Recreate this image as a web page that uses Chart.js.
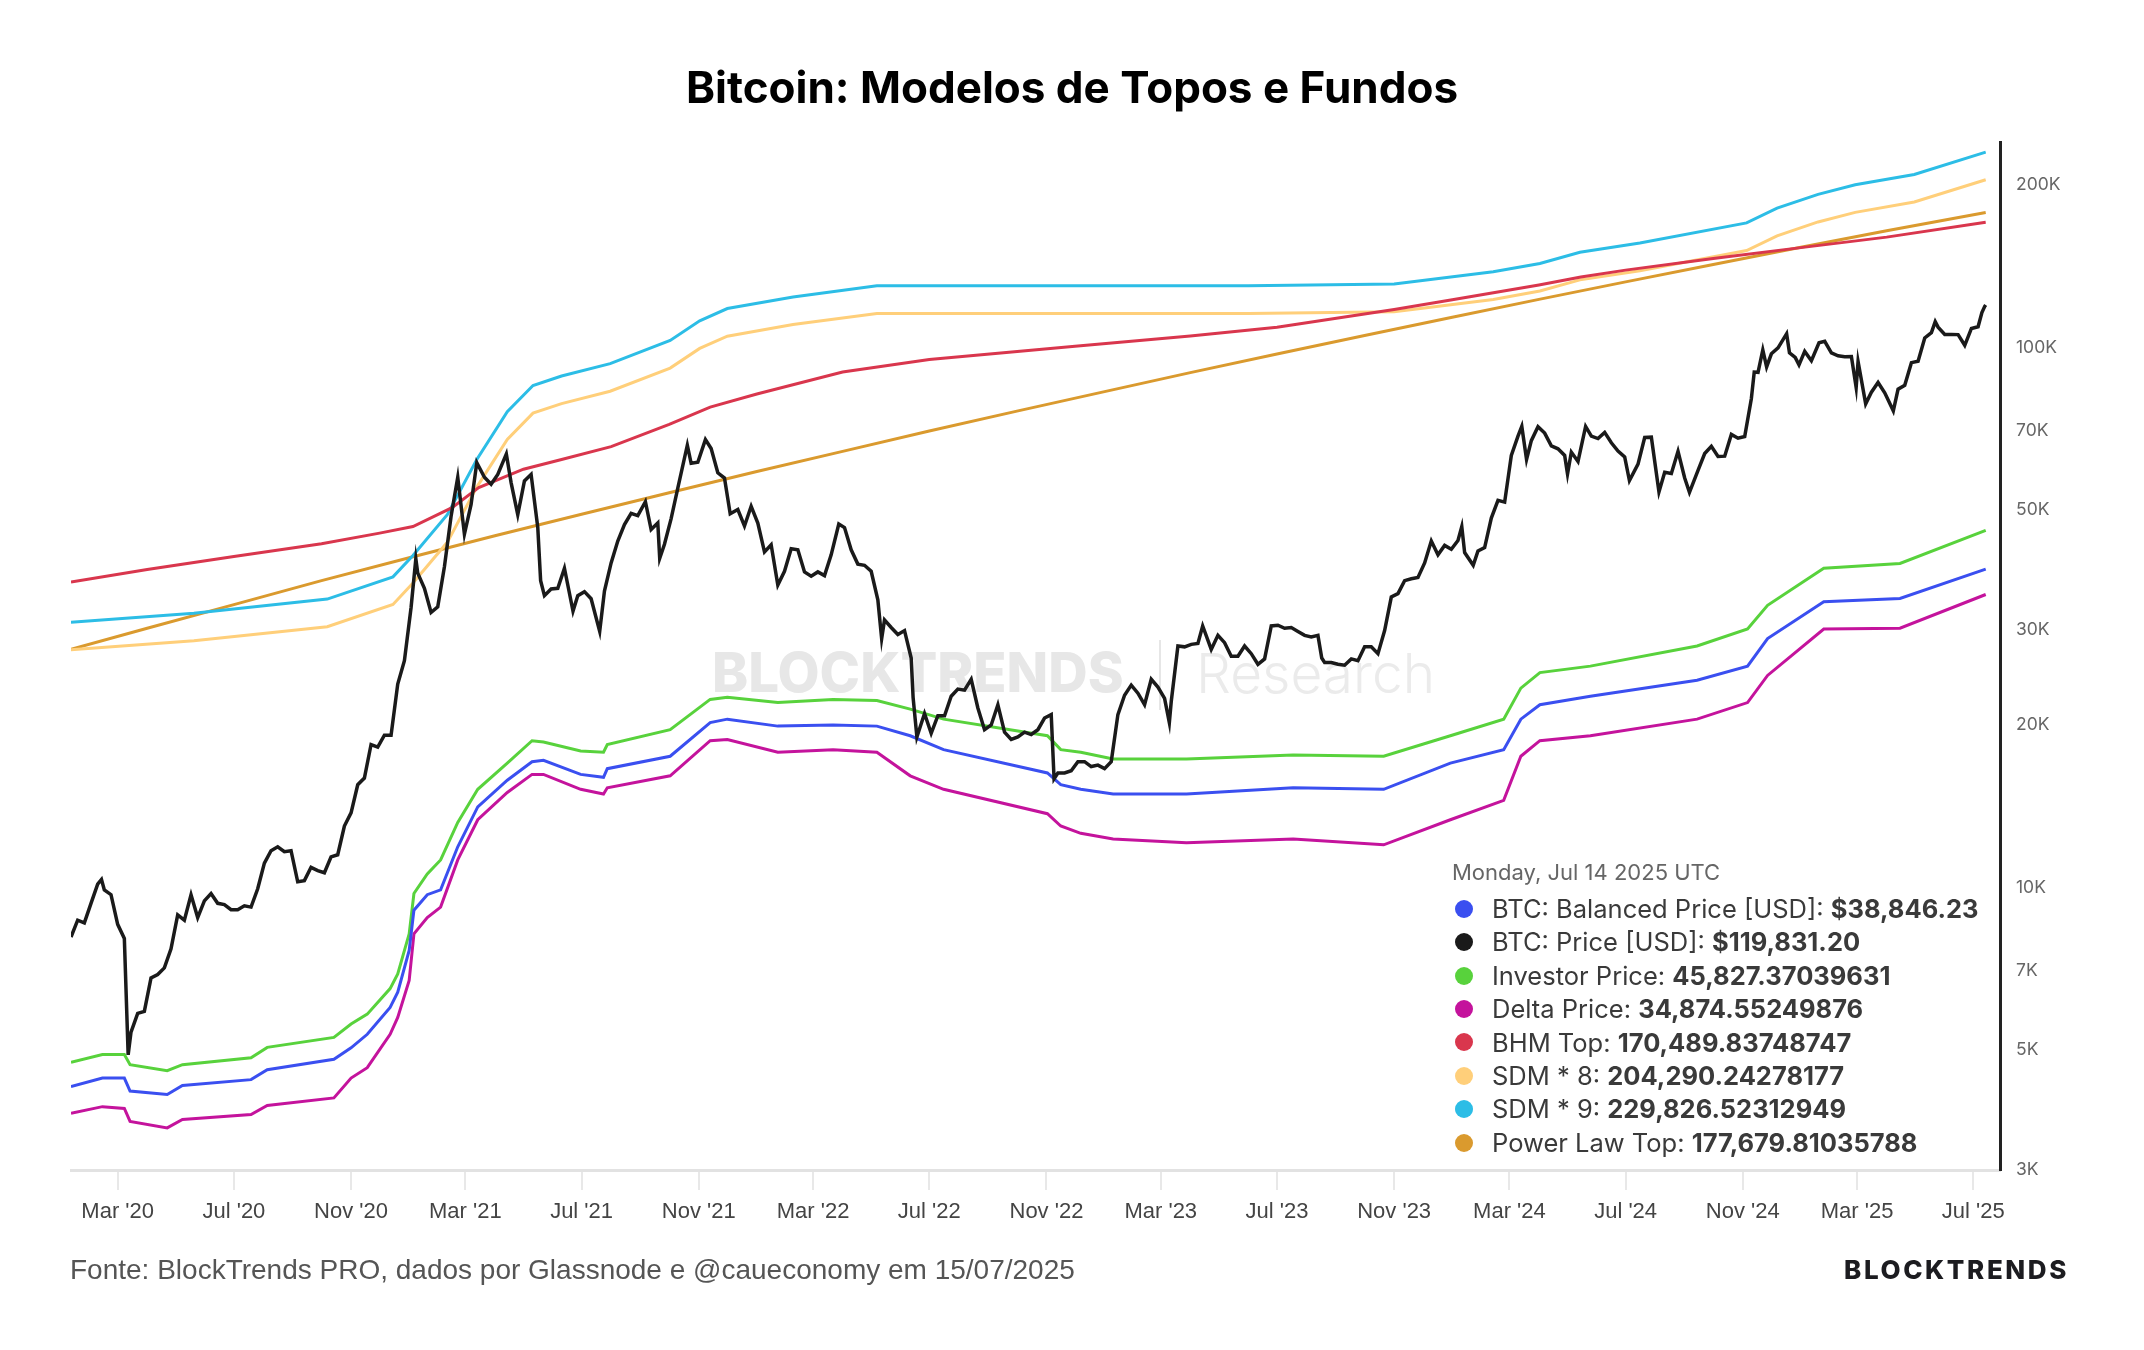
<!DOCTYPE html>
<html>
<head>
<meta charset="utf-8">
<script src="https://cdn.jsdelivr.net/npm/chart.js@4.4.1/dist/chart.umd.min.js"></script>
<style>
    html, body { margin: 0; padding: 0; background: #fff; }
    #page { position: relative; width: 2144px; height: 1350px; overflow: hidden; font-family: Inter, 'Liberation Sans', sans-serif; }
    #chartBox { position: absolute; left: 0; top: 0; width: 2144px; height: 1350px; }
    #title { position: absolute; left: 0; top: 61px; width: 2144px; text-align: center; font: 700 44px Inter, sans-serif; line-height: 52px; color: #000; }
    #footer { position: absolute; left: 70px; top: 1253px; font: 400 28px 'Liberation Sans', Arial, sans-serif; line-height: 34px; color: #555; }
    #brand { position: absolute; right: 75px; top: 1255px; font: 800 26px Inter, sans-serif; line-height: 30px; letter-spacing: 2.6px; color: #1c1c20; }
    #legend { position: absolute; left: 1452px; top: 857px; color: #3a3a3a; }
    #legend .date { font: 400 22px Inter, sans-serif; line-height: 30px; color: #666; margin-bottom: 5px; }
    #legend .row { position: relative; font: 400 25.5px Inter, sans-serif; line-height: 33.4px; padding-left: 40px; white-space: nowrap; }
    #legend .row b { font-weight: 700; }
    #legend .dot { position: absolute; left: 3px; top: 7.7px; width: 18px; height: 18px; border-radius: 50%; }
</style>
</head>
<body>
<div id="page">
    <div id="chartBox"><canvas id="chart"></canvas></div>
    <div id="title">Bitcoin: Modelos de Topos e Fundos</div>
    <div id="legend"></div>
    <div id="footer">Fonte: BlockTrends PRO, dados por Glassnode e @caueconomy em 15/07/2025</div>
    <div id="brand">BLOCKTRENDS</div>
</div>
<script>
// Axis ticks
const xTickDates = [ '2020-03-01', '2020-07-01', '2020-11-01', '2021-03-01', '2021-07-01', '2021-11-01', '2022-03-01', '2022-07-01', '2022-11-01', '2023-03-01', '2023-07-01', '2023-11-01', '2024-03-01', '2024-07-01', '2024-11-01', '2025-03-01', '2025-07-01' ];
const xTickLabels = [ "Mar '20", "Jul '20", "Nov '20", "Mar '21", "Jul '21", "Nov '21", "Mar '22", "Jul '22", "Nov '22", "Mar '23", "Jul '23", "Nov '23", "Mar '24", "Jul '24", "Nov '24", "Mar '25", "Jul '25" ];
const yTickValues = [ 3000, 5000, 7000, 10000, 20000, 30000, 50000, 70000, 100000, 200000 ];

// BTC price (USD)
const priceDates = [
    '2020-01-12', '2020-01-19', '2020-01-26', '2020-02-02', '2020-02-09', '2020-02-13', '2020-02-16', '2020-02-23', '2020-03-01', '2020-03-08',
    '2020-03-12', '2020-03-15', '2020-03-22', '2020-03-29', '2020-04-05', '2020-04-12', '2020-04-19', '2020-04-26', '2020-05-03', '2020-05-10',
    '2020-05-17', '2020-05-24', '2020-05-31', '2020-06-07', '2020-06-14', '2020-06-21', '2020-06-28', '2020-07-05', '2020-07-12', '2020-07-19',
    '2020-07-26', '2020-08-02', '2020-08-09', '2020-08-16', '2020-08-23', '2020-08-30', '2020-09-06', '2020-09-13', '2020-09-20', '2020-09-27',
    '2020-10-04', '2020-10-11', '2020-10-18', '2020-10-25', '2020-11-01', '2020-11-08', '2020-11-15', '2020-11-22', '2020-11-29', '2020-12-06',
    '2020-12-13', '2020-12-20', '2020-12-27', '2021-01-03', '2021-01-08', '2021-01-10', '2021-01-17', '2021-01-24', '2021-01-31', '2021-02-07',
    '2021-02-14', '2021-02-21', '2021-02-28', '2021-03-07', '2021-03-13', '2021-03-21', '2021-03-28', '2021-04-04', '2021-04-13', '2021-04-18',
    '2021-04-25', '2021-05-02', '2021-05-09', '2021-05-16', '2021-05-19', '2021-05-23', '2021-05-30', '2021-06-06', '2021-06-13', '2021-06-22',
    '2021-06-27', '2021-07-04', '2021-07-11', '2021-07-20', '2021-07-25', '2021-08-01', '2021-08-08', '2021-08-15', '2021-08-22', '2021-08-29',
    '2021-09-06', '2021-09-12', '2021-09-19', '2021-09-21', '2021-09-26', '2021-10-03', '2021-10-10', '2021-10-20', '2021-10-24', '2021-10-31',
    '2021-11-08', '2021-11-14', '2021-11-21', '2021-11-28', '2021-12-04', '2021-12-12', '2021-12-19', '2021-12-26', '2022-01-02', '2022-01-09',
    '2022-01-16', '2022-01-23', '2022-01-30', '2022-02-06', '2022-02-13', '2022-02-20', '2022-02-27', '2022-03-06', '2022-03-13', '2022-03-20',
    '2022-03-28', '2022-04-03', '2022-04-10', '2022-04-17', '2022-04-24', '2022-05-01', '2022-05-08', '2022-05-12', '2022-05-15', '2022-05-22',
    '2022-05-29', '2022-06-05', '2022-06-12', '2022-06-14', '2022-06-18', '2022-06-26', '2022-07-03', '2022-07-10', '2022-07-17', '2022-07-24',
    '2022-07-31', '2022-08-07', '2022-08-14', '2022-08-21', '2022-08-28', '2022-09-04', '2022-09-11', '2022-09-18', '2022-09-25', '2022-10-02',
    '2022-10-09', '2022-10-16', '2022-10-23', '2022-10-30', '2022-11-06', '2022-11-09', '2022-11-13', '2022-11-20', '2022-11-27', '2022-12-04',
    '2022-12-11', '2022-12-18', '2022-12-25', '2023-01-01', '2023-01-08', '2023-01-15', '2023-01-22', '2023-01-29', '2023-02-05', '2023-02-12',
    '2023-02-19', '2023-02-26', '2023-03-05', '2023-03-10', '2023-03-12', '2023-03-19', '2023-03-26', '2023-04-02', '2023-04-09', '2023-04-14',
    '2023-04-23', '2023-04-30', '2023-05-07', '2023-05-14', '2023-05-21', '2023-05-28', '2023-06-04', '2023-06-11', '2023-06-18', '2023-06-25',
    '2023-07-02', '2023-07-09', '2023-07-16', '2023-07-23', '2023-07-30', '2023-08-06', '2023-08-13', '2023-08-17', '2023-08-20', '2023-08-27',
    '2023-09-03', '2023-09-10', '2023-09-17', '2023-09-24', '2023-10-01', '2023-10-08', '2023-10-15', '2023-10-22', '2023-10-29', '2023-11-05',
    '2023-11-12', '2023-11-19', '2023-11-26', '2023-12-03', '2023-12-10', '2023-12-17', '2023-12-24', '2023-12-31', '2024-01-07', '2024-01-11',
    '2024-01-14', '2024-01-23', '2024-01-28', '2024-02-04', '2024-02-11', '2024-02-18', '2024-02-25', '2024-03-03', '2024-03-10', '2024-03-14',
    '2024-03-19', '2024-03-24', '2024-03-31', '2024-04-07', '2024-04-14', '2024-04-21', '2024-04-28', '2024-05-01', '2024-05-05', '2024-05-12',
    '2024-05-20', '2024-05-26', '2024-06-02', '2024-06-09', '2024-06-16', '2024-06-23', '2024-06-30', '2024-07-05', '2024-07-14', '2024-07-21',
    '2024-07-28', '2024-08-05', '2024-08-11', '2024-08-18', '2024-08-25', '2024-09-01', '2024-09-06', '2024-09-15', '2024-09-22', '2024-09-29',
    '2024-10-06', '2024-10-13', '2024-10-20', '2024-10-27', '2024-11-03', '2024-11-10', '2024-11-13', '2024-11-17', '2024-11-22', '2024-11-26',
    '2024-12-01', '2024-12-08', '2024-12-17', '2024-12-20', '2024-12-26', '2024-12-30', '2025-01-05', '2025-01-12', '2025-01-20', '2025-01-26',
    '2025-02-02', '2025-02-09', '2025-02-16', '2025-02-23', '2025-02-28', '2025-03-02', '2025-03-10', '2025-03-16', '2025-03-23', '2025-03-30',
    '2025-04-08', '2025-04-13', '2025-04-20', '2025-04-27', '2025-05-04', '2025-05-11', '2025-05-18', '2025-05-22', '2025-05-25', '2025-06-01',
    '2025-06-08', '2025-06-15', '2025-06-22', '2025-06-29', '2025-07-06', '2025-07-10', '2025-07-13', '2025-07-14'
];
const priceValues = [
    8100, 8700, 8600, 9350, 10150, 10350, 9900, 9700, 8550, 8050,
    4900, 5400, 5850, 5900, 6800, 6900, 7100, 7700, 8900, 8700,
    9700, 8800, 9450, 9750, 9350, 9300, 9100, 9100, 9250, 9200,
    9950, 11100, 11700, 11900, 11650, 11700, 10250, 10300, 10900, 10750,
    10650, 11400, 11500, 13000, 13750, 15500, 15950, 18400, 18200, 19150,
    19150, 23800, 26300, 33000, 40600, 38200, 35800, 32300, 33100, 39250,
    48700, 57500, 45100, 51200, 61200, 57500, 55800, 58200, 63500, 56200,
    49000, 56600, 58200, 46400, 37000, 34700, 35700, 35800, 39000, 32500,
    34700, 35300, 34250, 29800, 35400, 39900, 43800, 47000, 49300, 48800,
    51800, 46000, 47300, 40700, 43200, 48200, 54900, 65900, 61000, 61300,
    67500, 65000, 58600, 57300, 49200, 50100, 46700, 50800, 47300, 41800,
    43100, 36300, 38500, 42400, 42200, 38400, 37700, 38400, 37800, 41300,
    47100, 46400, 42200, 39700, 39500, 38500, 34100, 28900, 31300, 30300,
    29400, 29900, 26600, 22500, 19000, 21000, 19300, 20800, 20800, 22600,
    23300, 23200, 24300, 21500, 19600, 20000, 21800, 19400, 18800, 19000,
    19400, 19200, 19600, 20600, 20900, 15900, 16300, 16300, 16450, 17100,
    17100, 16750, 16850, 16600, 17100, 20900, 22700, 23700, 22900, 21800,
    24300, 23500, 22400, 20200, 22100, 28000, 27900, 28200, 28300, 30500,
    27600, 29300, 28400, 26800, 26800, 28000, 27100, 25900, 26500, 30500,
    30600, 30200, 30300, 29800, 29300, 29100, 29300, 26600, 26100, 26100,
    25900, 25800, 26500, 26300, 27900, 27900, 27100, 29900, 34500, 35000,
    37000, 37300, 37500, 39900, 43800, 41300, 43000, 42300, 43900, 46600,
    41700, 39500, 42000, 42600, 48300, 52100, 51700, 63100, 68500, 71400,
    62000, 67200, 71300, 69400, 65700, 64900, 63100, 58300, 64000, 61500,
    71400, 68500, 67800, 69600, 66600, 64300, 62700, 56700, 60800, 68100,
    68200, 54000, 58700, 58400, 64200, 57300, 53900, 59200, 63600, 65600,
    62800, 62900, 69000, 67900, 68400, 80400, 90000, 89900, 98900, 92000,
    97300, 99800, 106000, 97700, 95800, 92800, 98300, 94500, 102000, 102600,
    97700, 96500, 96100, 96200, 84300, 94200, 78600, 82600, 86100, 82400,
    76300, 83700, 85100, 93700, 94300, 104100, 106500, 111600, 109000, 105700,
    105700, 105600, 100900, 108400, 109200, 116000, 119100, 119831.20
];

// Bottom models: Investor, Balanced, Delta
const bandDates = [
    '2020-01-12', '2020-02-14', '2020-03-08', '2020-03-14', '2020-04-22', '2020-05-08', '2020-07-19', '2020-08-05', '2020-10-14', '2020-11-01',
    '2020-11-18', '2020-12-12', '2020-12-20', '2021-01-01', '2021-01-06', '2021-01-20', '2021-02-03', '2021-02-21', '2021-03-14', '2021-04-14',
    '2021-05-10', '2021-05-22', '2021-06-30', '2021-07-24', '2021-07-28', '2021-10-02', '2021-11-13', '2021-12-01', '2022-01-23', '2022-03-22',
    '2022-05-07', '2022-06-11', '2022-07-16', '2022-11-02', '2022-11-16', '2022-12-07', '2023-01-10', '2023-03-28', '2023-07-18', '2023-10-21',
    '2023-12-30', '2024-02-24', '2024-03-13', '2024-04-02', '2024-05-25', '2024-09-14', '2024-11-06', '2024-11-27', '2025-01-25', '2025-04-15',
    '2025-07-14'
];
const investorValues = [
    4750, 4910, 4910, 4700, 4580, 4700, 4840, 5060, 5280, 5590,
    5830, 6500, 6920, 8210, 9750, 10600, 11250, 13200, 15200, 17000,
    18700, 18600, 17900, 17800, 18400, 19600, 22300, 22500, 22000, 22300,
    22200, 21400, 20500, 19100, 18000, 17800, 17300, 17300, 17600, 17500,
    19100, 20500, 23400, 25000, 25700, 28000, 30100, 33300, 39000, 39800,
    45827.37
];
const balancedValues = [
    4280, 4440, 4440, 4200, 4140, 4300, 4410, 4600, 4810, 5050,
    5350, 6000, 6400, 7650, 9080, 9700, 9900, 11900, 14100, 15800,
    17100, 17200, 16200, 16000, 16600, 17500, 20200, 20500, 19900, 20000,
    19900, 19100, 18000, 16300, 15500, 15200, 14900, 14900, 15300, 15200,
    17000, 18000, 20500, 21800, 22600, 24200, 25700, 28900, 33800, 34300,
    38846.23
];
const deltaValues = [
    3820, 3930, 3900, 3690, 3590, 3720, 3800, 3950, 4080, 4440,
    4640, 5350, 5750, 6730, 8210, 8800, 9200, 11250, 13350, 15000,
    16200, 16200, 15200, 14900, 15300, 16100, 18700, 18800, 17800, 18000,
    17800, 16100, 15200, 13700, 13000, 12600, 12300, 12100, 12300, 12000,
    13350, 14500, 17500, 18700, 19100, 20500, 22000, 24700, 30100, 30200,
    34874.55
];

// Top models
const bhmDates = [
    '2020-01-12', '2020-04-01', '2020-07-01', '2020-10-01', '2020-12-01', '2021-01-05', '2021-02-15', '2021-03-15', '2021-05-01', '2021-06-10',
    '2021-08-01', '2021-10-01', '2021-11-13', '2022-01-01', '2022-04-01', '2022-07-01', '2022-12-01', '2023-04-01', '2023-07-01', '2023-11-01',
    '2024-01-01', '2024-04-01', '2024-05-15', '2024-07-01', '2024-10-01', '2025-01-01', '2025-04-01', '2025-07-14'
];
const bhmValues = [
    36800, 38800, 41000, 43300, 45300, 46600, 50500, 55000, 59500, 62000,
    65500, 72000, 77500, 82000, 90000, 95000, 100500, 105000, 109000, 117500,
    122500, 130500, 135000, 139000, 146000, 153000, 160000, 170489.84
];

const sdmDates = [
    '2020-01-12', '2020-05-20', '2020-10-07', '2020-12-15', '2021-01-05', '2021-02-10', '2021-03-13', '2021-04-14', '2021-05-11', '2021-06-10',
    '2021-07-31', '2021-10-02', '2021-11-02', '2021-12-01', '2022-02-08', '2022-05-07', '2022-11-15', '2023-06-01', '2023-11-01', '2024-02-13',
    '2024-04-02', '2024-05-14', '2024-07-16', '2024-11-05', '2024-12-07', '2025-01-19', '2025-02-27', '2025-04-30', '2025-07-14'
];
const sdm9Values = [
    31000, 32200, 34200, 37600, 41200, 49000, 62000, 76000, 85000, 88500,
    93300, 103000, 112000, 118000, 124000, 130000, 130000, 130000, 131000, 138000,
    143000, 150000, 156000, 170000, 181000, 192000, 200000, 209000, 229826.52
];
const sdm8Values = [
    27560, 28630, 30400, 33430, 36630, 43560, 55120, 67560, 75570, 78680,
    82940, 91570, 99570, 104900, 110240, 115570, 115570, 115570, 116460, 122680,
    127130, 133350, 138680, 151130, 160910, 170690, 177800, 185800, 204290.24
];

const powerLawDates = [
    '2020-01-12', '2020-04-01', '2020-07-01', '2020-10-01', '2021-01-01', '2021-04-01', '2021-07-01', '2021-10-01', '2022-01-01', '2022-04-01',
    '2022-07-01', '2022-10-01', '2023-01-01', '2023-04-01', '2023-07-01', '2023-10-01', '2024-01-01', '2024-04-01', '2024-07-01', '2024-10-01',
    '2025-01-01', '2025-04-01', '2025-07-14'
];
const powerLawValues = [
    27600, 30200, 33400, 37000, 40800, 44800, 49100, 53800, 58900, 64200,
    70000, 76200, 82800, 89800, 97200, 105200, 113700, 122700, 132200, 142400,
    153200, 164400, 177679.81
];

// Tooltip-style legend text
const legendNames = [ 'BTC: Balanced Price [USD]: ', 'BTC: Price [USD]: ', 'Investor Price: ', 'Delta Price: ', 'BHM Top: ', 'SDM * 8: ', 'SDM * 9: ', 'Power Law Top: ' ];
const legendValues = [ '$38,846.23', '$119,831.20', '45,827.37039631', '34,874.55249876', '170,489.83748747', '204,290.24278177', '229,826.52312949', '177,679.81035788' ];
const seriesColors = [ '#3a4ff0', '#1a1a1a', '#58d23c', '#c4139c', '#d9364d', '#ffcf7a', '#2cbde6', '#da9a2e' ];

const toMs = ( d ) => Date.parse( d + 'T00:00:00Z' );
const points = ( dates, values ) => dates.map( ( d, i ) => ( { x: toMs( d ), y: values[ i ] } ) );

function makeSet ( index, dates, values, width, order )
{
    return {
        label: legendNames[ index ],
        data: points( dates, values ),
        borderColor: seriesColors[ index ],
        backgroundColor: seriesColors[ index ],
        borderWidth: width,
        pointRadius: 0,
        tension: 0,
        fill: false,
        order: order
    };
}

// legend box
const legendBox = document.getElementById( 'legend' );
let html = '<div class="date">Monday, Jul 14 2025 UTC</div>';
legendNames.forEach( ( name, i ) =>
{
    html += `<div class="row"><span class="dot" style="background:${ seriesColors[ i ] }"></span>${ name }<b>${ legendValues[ i ] }</b></div>`;
} );
legendBox.innerHTML = html;

// faint watermark behind the lines
const watermark = {
    id: 'watermark',
    beforeDatasetsDraw ( chart )
    {
        const ctx = chart.ctx;
        ctx.save();
        ctx.textBaseline = 'middle';
        ctx.fillStyle = '#e7e7e7';
        ctx.font = '800 54.5px Inter';
        ctx.fillText( 'BLOCKTRENDS', 712, 676 );
        ctx.strokeStyle = '#e6e6e6';
        ctx.lineWidth = 2;
        ctx.beginPath();
        ctx.moveTo( 1160, 640 );
        ctx.lineTo( 1160, 710 );
        ctx.stroke();
        ctx.fillStyle = '#ebebeb';
        ctx.font = '300 55px Inter';
        ctx.fillText( 'Research', 1196, 676 );
        ctx.restore();
    }
};

new Chart( document.getElementById( 'chart' ), {
    type: 'line',
    data: {
        datasets: [
            makeSet( 0, bandDates, balancedValues, 3, 1 ),
            makeSet( 1, priceDates, priceValues, 3.5, 0 ),
            makeSet( 2, bandDates, investorValues, 3, 1 ),
            makeSet( 3, bandDates, deltaValues, 3, 1 ),
            makeSet( 4, bhmDates, bhmValues, 3, 1 ),
            makeSet( 5, sdmDates, sdm8Values, 3, 1 ),
            makeSet( 6, sdmDates, sdm9Values, 3, 1 ),
            makeSet( 7, powerLawDates, powerLawValues, 3, 1 )
        ]
    },
    options: {
        responsive: true,
        maintainAspectRatio: false,
        animation: false,
        layout: { padding: { left: 71, top: 142, right: 0, bottom: 0 } },
        plugins: {
            legend: { display: false },
            tooltip: { enabled: false }
        },
        scales: {
            x: {
                type: 'linear',
                min: toMs( '2020-01-12' ),
                max: toMs( '2025-07-29' ),
                afterBuildTicks: ( scale ) => { scale.ticks = xTickDates.map( d => ( { value: toMs( d ) } ) ); },
                afterFit: ( scale ) => { scale.height = 180; },
                border: { display: true, color: '#e2e2e2', width: 3 },
                grid: { display: true, drawOnChartArea: false, drawTicks: true, tickLength: 20, color: '#e8e8e8', lineWidth: 2 },
                ticks: {
                    autoSkip: false,
                    maxRotation: 0,
                    padding: 9,
                    color: '#444',
                    font: { family: 'Liberation Sans', size: 22 },
                    callback: ( value, index ) => xTickLabels[ index ]
                }
            },
            y: {
                type: 'logarithmic',
                position: 'right',
                min: 3000,
                max: 240000,
                afterBuildTicks: ( scale ) => { scale.ticks = yTickValues.map( v => ( { value: v } ) ); },
                afterFit: ( scale ) => { scale.width = 144; },
                border: { display: true, color: '#222', width: 3 },
                grid: { display: false },
                ticks: {
                    padding: 8,
                    color: '#666',
                    font: { family: 'Inter', size: 17.5 },
                    callback: ( value ) => ( value / 1000 ) + 'K'
                }
            }
        }
    },
    plugins: [ watermark ]
} );
</script>
</body>
</html>
